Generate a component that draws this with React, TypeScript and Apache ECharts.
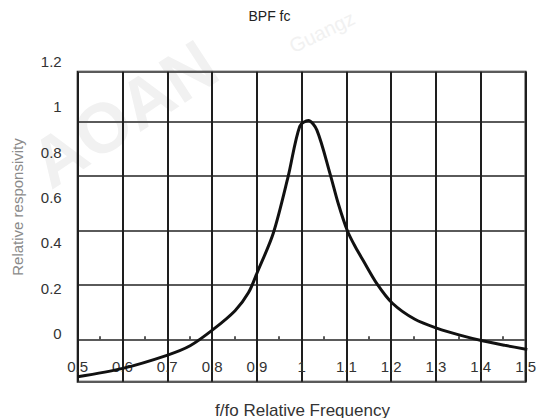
import React, { useEffect, useRef } from "react";
import * as echarts from "echarts";

const chartTitle = "BPF fc";
const xTitle = "f/fo Relative Frequency";
const yTitle = "Relative responsivity";

// f/fo relative frequency
const freq = [0.5, 0.6, 0.7, 0.75, 0.8, 0.85, 0.88, 0.9, 0.935, 0.968, 0.994, 1.013, 1.032, 1.061, 1.08, 1.1, 1.118, 1.135, 1.165, 1.2, 1.25, 1.3, 1.35, 1.4, 1.45, 1.5];
// relative responsivity (read against the labelled axis)
const resp = [-0.192, -0.155, -0.096, -0.055, 0.015, 0.1, 0.18, 0.272, 0.442, 0.692, 0.915, 0.94, 0.898, 0.707, 0.57, 0.452, 0.38, 0.322, 0.221, 0.133, 0.062, 0.022, -0.008, -0.033, -0.053, -0.071];

const xMin = 0.5;
const xMax = 1.5;
const xStep = 0.1;
const yLabelMin = -0.2;
const yLabelMax = 1.2;
const yLabelStep = 0.2;
// ruled grid of the printed figure (its rules do not sit on the labels)
const yGridMin = -0.156;
const yGridMax = 0.984;

const FONT = "Liberation Sans, Arial, sans-serif";

export default function App() {
  const ref = useRef<HTMLDivElement>(null);
  useEffect(() => {
    if (!ref.current) return;
    const chart = echarts.init(ref.current, null, { renderer: "svg" });
    const data = freq.map((f, i) => [f, resp[i]]);
    chart.setOption({
      animation: false,
      backgroundColor: "#ffffff",
      title: {
        text: chartTitle,
        left: "center",
        top: 4,
        textStyle: { fontFamily: FONT, fontSize: 14, fontWeight: "normal", color: "#222" },
      },
      graphic: [
        {
          type: "text",
          x: 124,
          y: 114,
          rotation: 0.58,
          z: -10,
          style: {
            text: "AOAN",
            fontFamily: FONT,
            fontSize: 70,
            fontWeight: "bold",
            fill: "#f1f1f1",
            textAlign: "center",
            textVerticalAlign: "middle",
          },
        },
        {
          type: "text",
          x: 322,
          y: 32,
          rotation: 0.45,
          z: -10,
          style: {
            text: "Guangz",
            fontFamily: FONT,
            fontSize: 20,
            fill: "#f1f1f1",
            textAlign: "center",
            textVerticalAlign: "middle",
          },
        },
        {
          type: "text",
          x: 17,
          y: 207,
          rotation: Math.PI / 2,
          style: {
            text: yTitle,
            fontFamily: FONT,
            fontSize: 15,
            fill: "#8a8a8a",
            textAlign: "center",
            textVerticalAlign: "middle",
          },
        },
        {
          type: "text",
          x: 302.5,
          y: 410,
          style: {
            text: xTitle,
            fontFamily: FONT,
            fontSize: 17,
            fill: "#333",
            textAlign: "center",
            textVerticalAlign: "middle",
          },
        },
      ],
      grid: [
        {
          left: 77.7,
          right: 11.7,
          top: 71.7,
          bottom: 36.3,
          show: true,
          borderColor: "#111",
          borderWidth: 2,
          backgroundColor: "transparent",
        },
        {
          left: 77.7,
          right: 11.7,
          top: 61.7,
          bottom: 39.4,
          show: false,
        },
      ],
      xAxis: [
        {
          type: "value",
          gridIndex: 0,
          min: xMin,
          max: xMax,
          interval: xStep,
          axisLine: { show: false },
          axisTick: { show: true, inside: true, length: 3, lineStyle: { color: "#222", width: 1.5 } },
          minorTick: { show: true, splitNumber: 2, length: 3, lineStyle: { color: "#222", width: 1.5 } },
          splitLine: { show: true, lineStyle: { color: "#1e1e1e", width: 2 } },
          axisLabel: {
            show: true,
            inside: true,
            margin: 8,
            fontFamily: FONT,
            fontSize: 15,
            color: "#333",
            showMinLabel: true,
            showMaxLabel: true,
          },
        },
        {
          type: "value",
          gridIndex: 1,
          min: xMin,
          max: xMax,
          show: false,
        },
      ],
      yAxis: [
        {
          type: "value",
          gridIndex: 0,
          min: yGridMin,
          max: yGridMax,
          splitNumber: 5,
          axisLine: { show: false },
          axisTick: { show: false },
          axisLabel: { show: false },
          splitLine: { show: true, lineStyle: { color: "#5a5a5a", width: 2 } },
        },
        {
          type: "value",
          gridIndex: 1,
          min: yLabelMin,
          max: yLabelMax,
          interval: yLabelStep,
          axisLine: { show: false },
          axisTick: { show: false },
          splitLine: { show: false },
          axisLabel: {
            show: true,
            margin: 16,
            fontFamily: FONT,
            fontSize: 15,
            color: "#333",
            showMinLabel: false,
          },
        },
      ],
      series: [
        {
          type: "line",
          xAxisIndex: 1,
          yAxisIndex: 1,
          data,
          smooth: 0.3,
          showSymbol: false,
          clip: false,
          z: 5,
          lineStyle: { color: "#111", width: 3 },
        },
      ],
    });
    return () => chart.dispose();
  }, []);
  return (
    <div
      ref={ref}
      style={{ position: "fixed", left: 0, top: 0, width: 539, height: 418 }}
    />
  );
}
